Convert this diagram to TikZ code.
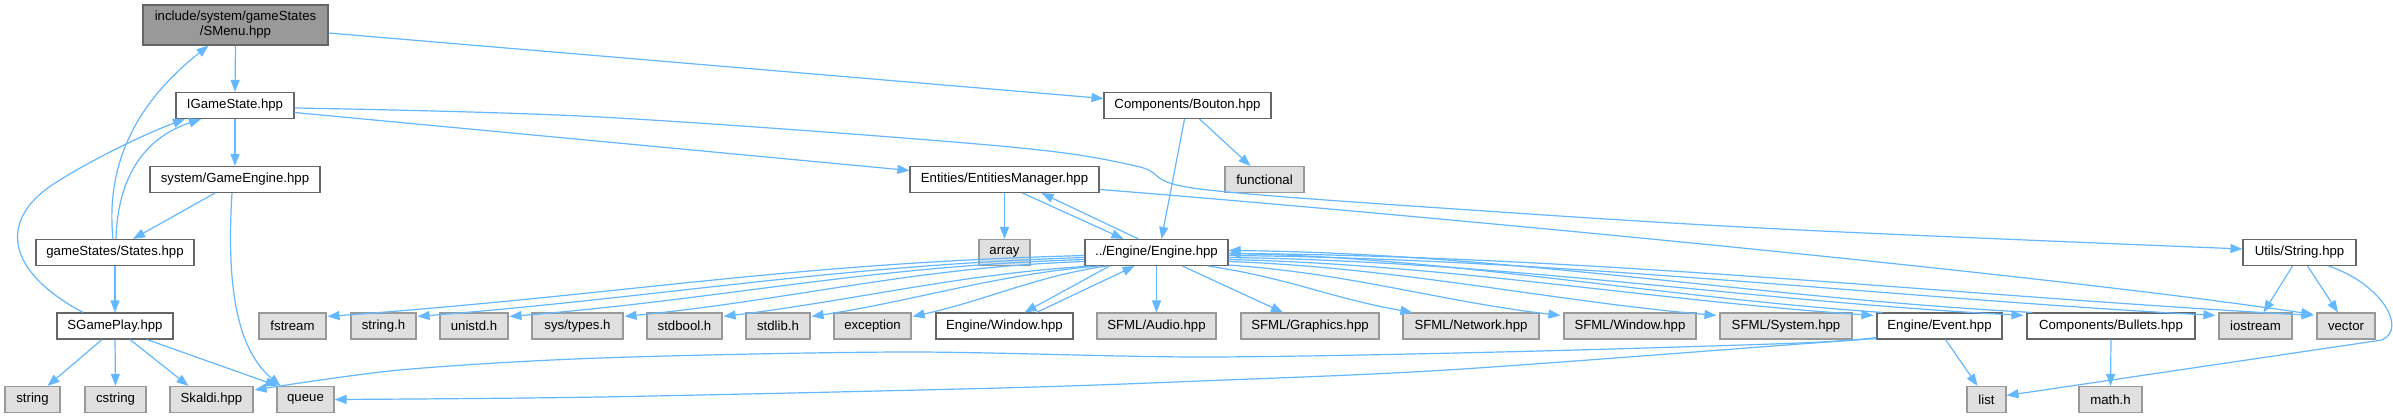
\documentclass[tikz,border=0pt]{standalone}
\usepackage{fontspec}
\setmainfont{Liberation Sans}
\usetikzlibrary{arrows.meta,calc}
\definecolor{edgeblue}{HTML}{63B8FF}
\definecolor{bordint}{HTML}{666666}
\definecolor{bordext}{HTML}{999999}
\definecolor{fillext}{HTML}{E0E0E0}
\definecolor{fillroot}{HTML}{999999}
\tikzset{
  box/.style={draw=bordint, fill=white, line width=1.1pt, inner sep=0pt, minimum height=26pt,
    font=\fontsize{13.2}{15}\selectfont, align=center},
  ext/.style={box, draw=bordext, fill=fillext},
  root/.style={box, fill=fillroot, draw=bordint, minimum height=40pt},
  dep/.style={draw=edgeblue, line width=1.2pt, -{Triangle[length=12pt,width=9pt]}},
}
\begin{document}
\begin{tikzpicture}[x=1pt,y=-1pt]
\useasboundingbox (0,0) rectangle (2393,417);
\fill[white] (0,0) rectangle (2393,417);
% row 0
\node[root, minimum width=185pt] (smenu) at (235.5,25) {include/system/gameStates\\/SMenu.hpp};
% row 1
\node[box, minimum width=118pt] (igs) at (235,105.5) {IGameState.hpp};
\node[box, minimum width=167pt] (bouton) at (1187.5,105.5) {Components/Bouton.hpp};
% row 2
\node[box, minimum width=170pt] (ge) at (235,179.5) {system/GameEngine.hpp};
\node[box, minimum width=189pt] (em) at (1004.5,179.5) {Entities/EntitiesManager.hpp};
\node[ext, minimum width=79pt] (functional) at (1264.5,179.5) {functional};
% row 3
\node[box, minimum width=158pt] (states) at (115,252.5) {gameStates/States.hpp};
\node[ext, minimum width=51pt] (array) at (1004.5,252.5) {array};
\node[box, minimum width=143pt] (engine) at (1156.5,252.5) {../Engine/Engine.hpp};
\node[box, minimum width=113pt] (ustr) at (2299.5,252.5) {Utils/String.hpp};
% row 4
\node[box, minimum width=116pt] (sgp) at (115,326) {SGamePlay.hpp};
\node[ext, minimum width=67pt] (fstream) at (292.5,326) {fstream};
\node[ext, minimum width=65pt] (stringh) at (383.5,326) {string.h};
\node[ext, minimum width=68pt] (unistd) at (474,326) {unistd.h};
\node[ext, minimum width=91pt] (systypes) at (577.5,326) {sys/types.h};
\node[ext, minimum width=75pt] (stdbool) at (684.5,326) {stdbool.h};
\node[ext, minimum width=64pt] (stdlib) at (778,326) {stdlib.h};
\node[ext, minimum width=77pt] (exception) at (872.5,326) {exception};
\node[box, minimum width=137pt] (ewin) at (1004.5,326) {Engine/Window.hpp};
\node[ext, minimum width=119pt] (audio) at (1156.5,326) {SFML/Audio.hpp};
\node[ext, minimum width=138pt] (graphics) at (1310,326) {SFML/Graphics.hpp};
\node[ext, minimum width=136pt] (network) at (1471,326) {SFML/Network.hpp};
\node[ext, minimum width=132pt] (swindow) at (1630,326) {SFML/Window.hpp};
\node[ext, minimum width=132pt] (system) at (1786,326) {SFML/System.hpp};
\node[box, minimum width=125pt] (event) at (1939.5,326) {Engine/Event.hpp};
\node[box, minimum width=168pt] (bullets) at (2111,326) {Components/Bullets.hpp};
\node[ext, minimum width=73pt] (iostream) at (2255.5,326) {iostream};
\node[ext, minimum width=58pt] (vector) at (2346,326) {vector};
% row 5
\node[ext, minimum width=55pt] (string) at (32.5,399.5) {string};
\node[ext, minimum width=61pt] (cstring) at (115.5,399.5) {cstring};
\node[ext, minimum width=83pt] (skaldi) at (211.5,399.5) {Skaldi.hpp};
\node[ext, minimum width=57pt] (queue) at (305.5,399.5) {queue};
\node[ext, minimum width=39pt] (list) at (1986.5,399.5) {list};
\node[ext, minimum width=63pt] (math) at (2110.5,399.5) {math.h};

% ---- edges
\draw[dep] (smenu.south) -- (igs.north);
\draw[dep] ($(smenu.east)+(0,8)$) -- ($(bouton.west)+(0,-7)$);
\draw[dep] plot[smooth, tension=0.55] coordinates {($(igs.east)+(0,2.5)$) (600,117) (1000,146) (1136,166) (1200,189) (1500,212) (1800,230) ($(ustr.west)+(0,-3.5)$)};
\draw[dep] ($(igs.east)+(0,7)$) -- ($(em.west)+(0,-9)$);
\draw[dep] (igs.south) -- (ge.north);
\draw[dep] ($(ge.south)+(-20,0)$) -- ($(states.north)+(18,0)$);
\draw[dep] ($(ge.south)+(-3,0)$) .. controls (226,290) and (238,350) .. ($(queue.north)+(-25,0)$);
\draw[dep] ($(states.north)+(-2,0)$) .. controls (104,150) and (150,92) .. ($(smenu.south)+(-27,0)$);
\draw[dep] ($(states.north)+(1,0)$) .. controls (118,170) and (150,136) .. ($(igs.south)+(-34,0)$);
\draw[dep] ($(sgp.north)+(-32,0)$) .. controls (0,268) and (0,215) .. (60,180) .. controls (100,155) and (150,132) .. ($(igs.south)+(-50,0)$);
\draw[dep] (states.south) -- (sgp.north);
\draw[dep] ($(sgp.south)+(-13,0)$) -- ($(string.north)+(15,0)$);
\draw[dep] (sgp.south) -- (cstring.north);
\draw[dep] ($(sgp.south)+(15,0)$) -- ($(skaldi.north)+(-23,0)$);
\draw[dep] ($(sgp.south)+(32,0)$) -- ($(queue.north)+(-28,0)$);
\draw[dep] ($(bouton.south)+(-3,0)$) -- ($(engine.north)+(5,0)$);
\draw[dep] ($(bouton.south)+(12,0)$) -- ($(functional.north)+(-14,0)$);
\draw[dep] (em.south) -- (array.north);
\draw[dep] ($(em.south)+(18,0)$) -- ($(engine.north)+(-33,0)$);
\draw[dep] ($(engine.north)+(-18,0)$) -- ($(em.south)+(37,0)$);
\draw[dep] ($(em.east)+(0,10)$) .. controls (1300,205) and (2000,268) .. ($(vector.north west)+(-3,2)$);
% engine -> left row
\draw[dep] ($(engine.west)+(0,3)$) .. controls +(-300,8) and +(300,-22) .. ($(fstream.north east)+(1,4)$);
\draw[dep] ($(engine.west)+(0,5)$) .. controls +(-250,8) and +(250,-20) .. ($(stringh.north east)+(1,4)$);
\draw[dep] ($(engine.west)+(0,7)$) .. controls +(-220,7) and +(220,-18) .. ($(unistd.north east)+(1,4)$);
\draw[dep] ($(engine.west)+(0,9)$) .. controls +(-170,6) and +(170,-17) .. ($(systypes.north east)+(1,4)$);
\draw[dep] ($(engine.south west)+(6,0)$) .. controls +(-130,8) and +(130,-16) .. ($(stdbool.north east)+(1,4)$);
\draw[dep] ($(engine.south west)+(14,0)$) .. controls +(-100,8) and +(100,-15) .. ($(stdlib.north east)+(1,4)$);
\draw[dep] ($(engine.south west)+(22,0)$) .. controls +(-70,10) and +(70,-15) .. ($(exception.north east)+(1,4)$);
\draw[dep] ($(engine.south)+(-47,0)$) -- ($(ewin.north)+(20,0)$);
\draw[dep] ($(ewin.north)+(32,0)$) -- ($(engine.south)+(-22,0)$);
\draw[dep] (engine.south) -- (audio.north);
% engine -> right row
\draw[dep] ($(engine.south)+(26,0)$) -- ($(graphics.north)+(-27,0)$);
\draw[dep] ($(engine.south east)+(-20,0)$) .. controls +(80,12) and +(-80,-14) .. ($(network.north west)+(10,0)$);
\draw[dep] ($(engine.south east)+(0,-1)$) .. controls +(120,8) and +(-120,-14) .. ($(swindow.north west)+(-3,3)$);
\draw[dep] ($(engine.east)+(0,9)$) .. controls +(170,6) and +(-170,-15) .. ($(system.north west)+(-3,3)$);
\draw[dep] ($(engine.east)+(0,7)$) .. controls +(220,5) and +(-220,-15) .. ($(event.north west)+(-3,3)$);
\draw[dep] ($(event.north west)+(6,0)$) .. controls +(-220,-15) and +(220,4) .. ($(engine.east)+(0,1)$);
\draw[dep] ($(engine.east)+(0,5)$) .. controls +(280,4) and +(-280,-15) .. ($(bullets.north west)+(-3,3)$);
\draw[dep] ($(bullets.north west)+(6,0)$) .. controls +(-280,-15) and +(280,3) .. ($(engine.east)+(0,-2)$);
\draw[dep] ($(engine.east)+(0,3)$) .. controls +(330,3) and +(-330,-18) .. ($(iostream.north west)+(-3,3)$);
\draw[dep] ($(engine.east)+(0,1)$) .. controls +(360,2) and +(-360,-20) .. ($(vector.north west)+(-3,3)$);
% utils/string
\draw[dep] ($(ustr.south)+(-7,0)$) -- ($(iostream.north)+(8,0)$);
\draw[dep] ($(ustr.south)+(8,0)$) -- ($(vector.north)+(-8,0)$);
\draw[dep] ($(ustr.south)+(29,0)$) .. controls (2380,283) and (2408,328) .. (2382,340) -- ($(list.east)+(0,-4)$);
% event / bullets
\draw[dep] ($(event.south)+(6,0)$) -- ($(list.north)+(-9,0)$);
\draw[dep] (bullets.south) -- (math.north);
\draw[dep] plot[smooth, tension=0.5] coordinates {($(event.south west)+(0,-2)$) (1800,343) (1500,352) (1200,357) (906,352) (600,358) (400,370) ($(skaldi.north east)+(1,4)$)};
\draw[dep] plot[smooth, tension=0.5] coordinates {($(event.south west)+(0,-1)$) (1800,344) (1447,370) (1200,381) (1000,388) (600,397) (queue.east)};
\end{tikzpicture}
\end{document}
